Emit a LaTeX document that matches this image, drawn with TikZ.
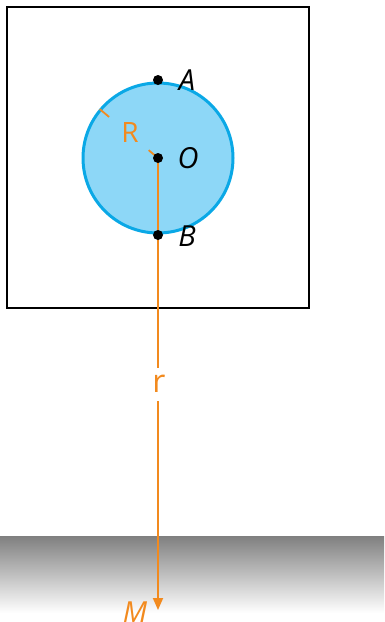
\documentclass[tikz,border=0pt]{standalone}
\usepackage{fontspec}
\setmainfont{Open Sans}
\usetikzlibrary{arrows.meta,calc}
\definecolor{orng}{HTML}{F28A1E}
\definecolor{skyfill}{HTML}{8DD7F7}
\definecolor{skyline}{HTML}{0AA8E6}
\begin{document}
\begin{tikzpicture}[x=1pt,y=-1pt,
  dot/.style={circle,fill=black,inner sep=0pt,minimum size=10pt},
  lab/.style={font=\fontsize{29}{29}\selectfont\itshape,inner sep=0pt},
  olab/.style={font=\fontsize{28}{28}\selectfont,text=orng,inner sep=0pt},
  oline/.style={draw=orng,line width=1.8pt}]
\useasboundingbox (0,0) rectangle (384,622);
% ground
\shade[top color=black!50,bottom color=white] (0,536) rectangle (384,613);
% box
\draw[line width=1.9pt] (7,7) rectangle (309,308);
% ball
\node[circle,fill=skyfill,draw=skyline,line width=3pt,minimum size=150pt,inner sep=0pt] (ball) at (158,158) {};
\coordinate (O) at (158,158);
\coordinate (E) at ($(O)+(140:76pt)$);
\coordinate (Mtip) at (158,610);
% R dimension
\draw[oline] (O) -- ($(O)!0.16!(E)$);
\draw[oline] ($(O)!0.84!(E)$) -- (E);
\node[olab] (Rlab) at (130,133) {R};
% r dimension
\node[olab,font=\fontsize{32}{32}\selectfont] (rlab) at (159,384) {r};
\draw[oline] (O) -- (158,368);
\draw[oline,-{Triangle[length=12pt,width=10pt]}] (158,401) -- (Mtip);
\node[lab,text=orng] (Mlab) at (135,612) {M};
% points
\node[dot] (A) at (158,80) {};
\node[dot] (Od) at (158,158) {};
\node[dot] (B) at (158,235) {};
\node[lab] (Alab) at (187,80) {A};
\node[lab] (Olab) at (188,158) {O};
\node[lab] (Blab) at (187,236) {B};
\end{tikzpicture}
\end{document}
